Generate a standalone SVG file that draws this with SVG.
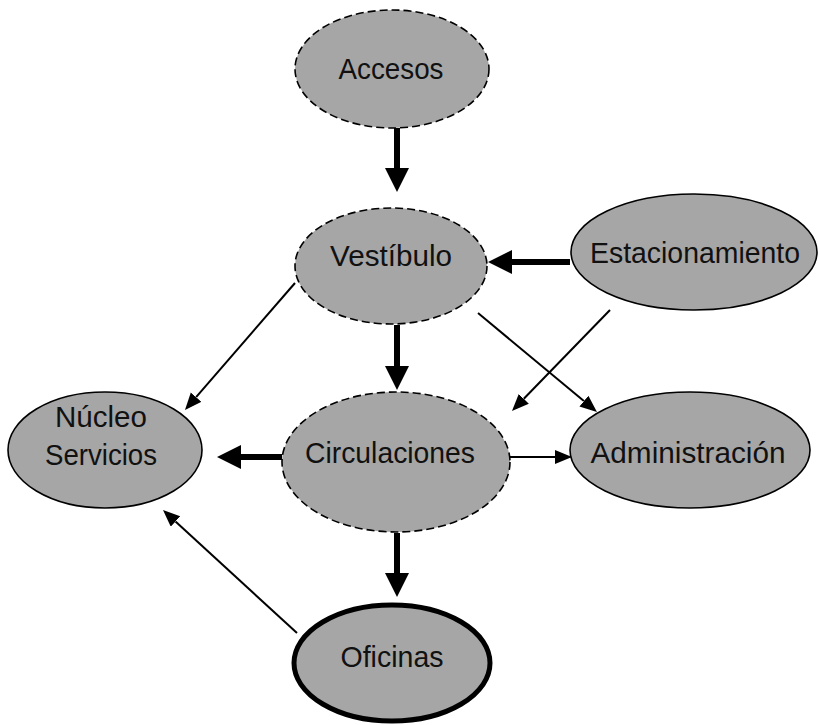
<svg xmlns="http://www.w3.org/2000/svg" width="818" height="725" viewBox="0 0 818 725">
  <style>
    .node { fill: #a6a6a6; stroke: #000; }
    .dashed { stroke-width: 1.6; stroke-dasharray: 8 4; }
    .solid { stroke-width: 1.6; }
    .heavy { stroke-width: 5; }
    .label { font-family: "Liberation Sans", Arial, sans-serif; font-size: 29px; fill: #111; text-anchor: middle; }
    .thick { stroke: #000; stroke-width: 6; fill: none; marker-end: url(#headThick); }
    .thin { stroke: #000; stroke-width: 2; fill: none; marker-end: url(#headThin); }
  </style>
  <defs>
    <marker id="headThick" markerUnits="userSpaceOnUse" markerWidth="26" markerHeight="26" refX="0" refY="12" orient="auto">
      <path d="M0,0 L24,12 L0,24 Z" fill="#000"/>
    </marker>
    <marker id="headThin" markerUnits="userSpaceOnUse" markerWidth="19" markerHeight="15" refX="0" refY="7" orient="auto">
      <path d="M0,0 L17,7 L0,14 Z" fill="#000"/>
    </marker>
  </defs>

  <g id="connectors">
    <line class="thick" x1="397" y1="128" x2="397" y2="168"/>
    <line class="thick" x1="397" y1="325" x2="397" y2="366"/>
    <line class="thick" x1="397" y1="533" x2="397" y2="573"/>
    <line class="thick" x1="570" y1="262" x2="512" y2="262"/>
    <line class="thick" x1="282" y1="457" x2="241" y2="457"/>
    <line class="thin" x1="510" y1="457" x2="555" y2="457"/>
    <line class="thin" x1="295" y1="283" x2="196.1" y2="397.2"/>
    <line class="thin" x1="478" y1="313" x2="583.9" y2="401.1"/>
    <line class="thin" x1="610" y1="310" x2="523.8" y2="398.8"/>
    <line class="thin" x1="297" y1="633" x2="175.5" y2="521.5"/>
  </g>

  <g id="accesos">
    <ellipse class="node dashed" cx="392" cy="69" rx="97" ry="59"/>
    <text class="label" x="391" y="79" textLength="105" lengthAdjust="spacingAndGlyphs">Accesos</text>
  </g>
  <g id="vestibulo">
    <ellipse class="node dashed" cx="391" cy="266" rx="96" ry="58"/>
    <text class="label" x="391" y="266" textLength="122" lengthAdjust="spacingAndGlyphs">Vestíbulo</text>
  </g>
  <g id="estacionamiento">
    <ellipse class="node solid" cx="694" cy="252" rx="123" ry="58"/>
    <text class="label" x="695" y="263" textLength="210" lengthAdjust="spacingAndGlyphs">Estacionamiento</text>
  </g>
  <g id="nucleo-servicios">
    <ellipse class="node solid" cx="105" cy="450" rx="97" ry="58"/>
    <text class="label" x="101" y="427" textLength="92" lengthAdjust="spacingAndGlyphs">Núcleo</text>
    <text class="label" x="101" y="465" textLength="112" lengthAdjust="spacingAndGlyphs">Servicios</text>
  </g>
  <g id="circulaciones">
    <ellipse class="node dashed" cx="396" cy="462" rx="114" ry="70"/>
    <text class="label" x="390" y="463" textLength="170" lengthAdjust="spacingAndGlyphs">Circulaciones</text>
  </g>
  <g id="administracion">
    <ellipse class="node solid" cx="690" cy="450" rx="120" ry="58"/>
    <text class="label" x="688" y="463" textLength="195" lengthAdjust="spacingAndGlyphs">Administración</text>
  </g>
  <g id="oficinas">
    <ellipse class="node heavy" cx="392" cy="663" rx="98" ry="58"/>
    <text class="label" x="392" y="667" textLength="103" lengthAdjust="spacingAndGlyphs">Oficinas</text>
  </g>
</svg>
